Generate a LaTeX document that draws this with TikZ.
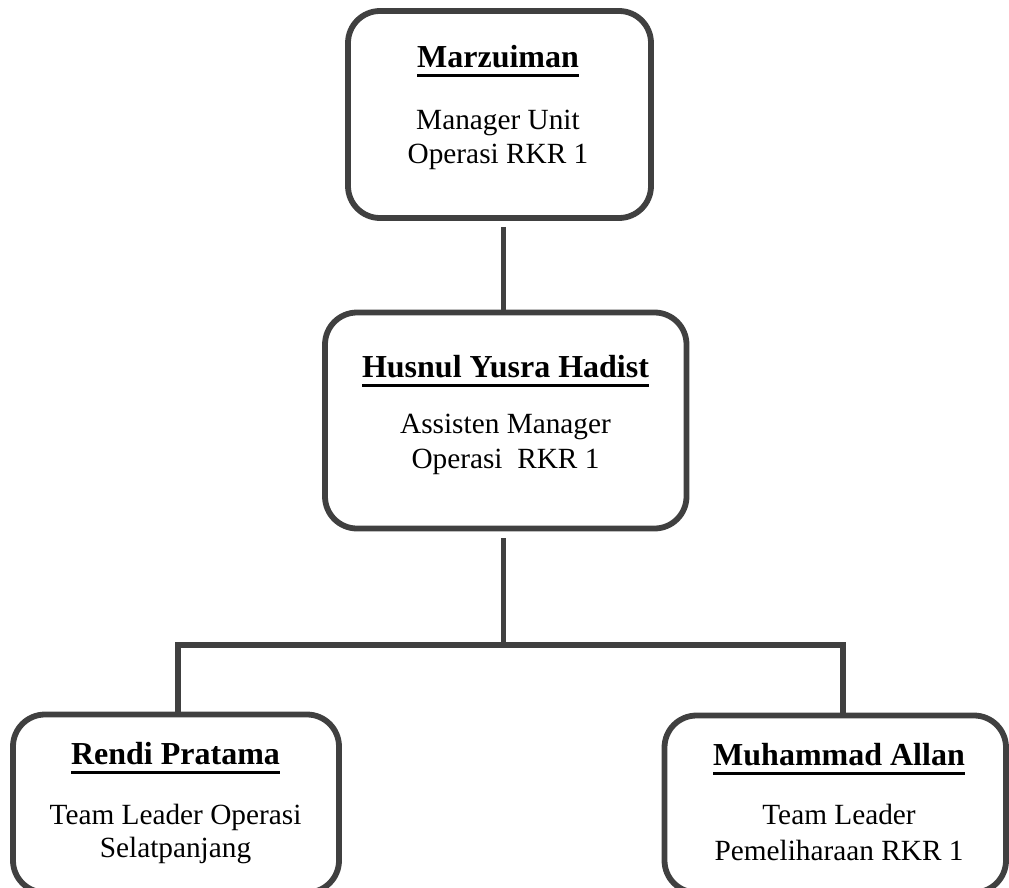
\documentclass[tikz,border=0pt]{standalone}
\usepackage{fontspec}
\setmainfont{Liberation Serif}
\definecolor{edge}{RGB}{64,64,64}
\newcommand\myul[1]{\setbox0\hbox{#1}\rlap{\rule[-9.5pt]{\wd0}{3pt}}\box0}
\tikzset{
  orgbox/.style={draw=edge, line width=5.8pt, rounded corners=32pt, inner sep=0pt},
  conn/.style={draw=edge, line width=5.8pt},
  pname/.style={anchor=base, inner sep=0pt, font=\fontsize{32}{38}\selectfont\bfseries},
  prole/.style={anchor=base, inner sep=0pt, font=\fontsize{29.3}{33}\selectfont},
}
\begin{document}
\begin{tikzpicture}[x=1pt,y=-1pt]
\useasboundingbox (0,0) rectangle (1009,888);
\begin{scope}
\clip (0,0) rectangle (1009,888);
% boxes
\node[orgbox, minimum width=303pt, minimum height=207pt] (top) at (499.5,114.5) {};
\node[orgbox, minimum width=361.5pt, minimum height=216pt] (mid) at (505.75,420.5) {};
\node[orgbox, minimum width=326pt, minimum height=178pt] (left) at (176,803.5) {};
\node[orgbox, minimum width=341.5pt, minimum height=177pt] (right) at (835.25,804) {};
% texts
\node[pname] (topname) at (498,68) {\myul{Marzuiman}};
\node[prole] (toprole1) at (498,130) {Manager Unit};
\node[prole] (toprole2) at (498,163) {Operasi RKR 1};
\node[pname] (midname) at (505.5,377) {\myul{Husnul Yusra Hadist}};
\node[prole] (midrole1) at (505.5,433) {Assisten Manager};
\node[prole] (midrole2) at (505.5,468) {Operasi\ \ RKR 1};
\node[pname] (leftname) at (175.5,764) {\myul{Rendi Pratama}};
\node[prole] (leftrole1) at (175.5,824.5) {Team Leader Operasi};
\node[prole] (leftrole2) at (175.5,857) {Selatpanjang};
\node[pname] (rightname) at (839,765) {\myul{Muhammad Allan}};
\node[prole] (rightrole1) at (839,824.5) {Team Leader};
\node[prole] (rightrole2) at (839,860) {Pemeliharaan RKR 1};
% connectors
\coordinate (junction) at (503.5,645);
\coordinate (jl) at (178,645);
\coordinate (jr) at (843,645);
\draw[conn, shorten <=6pt] (top.south -| junction) -- (mid.north -| junction);
\draw[conn, shorten <=7pt] (mid.south -| junction) -- (junction);
\draw[conn] (left.north -| jl) -- (jl) -- (jr) -- (right.north -| jr);
\end{scope}
\end{tikzpicture}
\end{document}
